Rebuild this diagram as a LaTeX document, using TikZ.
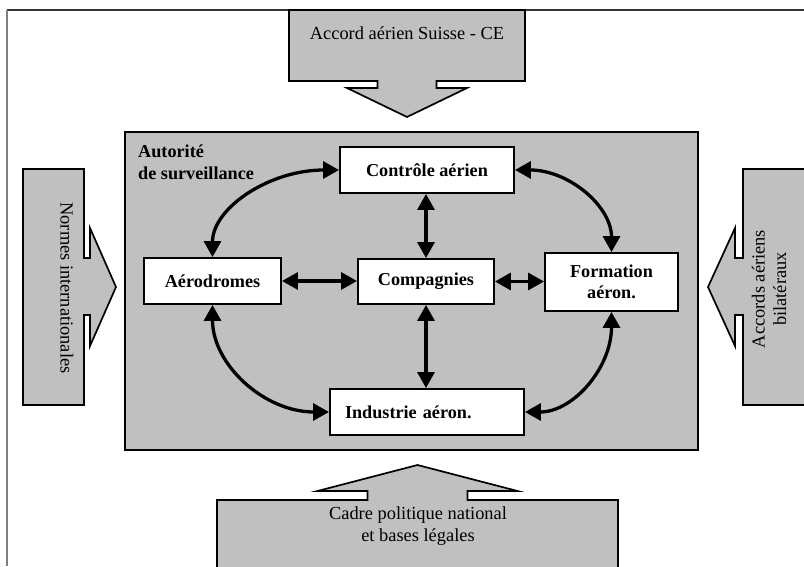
\documentclass[tikz,border=0pt]{standalone}
\usepackage{fontspec}
\setmainfont{Liberation Serif}
\usetikzlibrary{arrows.meta,calc}
\definecolor{silv}{RGB}{192,192,192}
\begin{document}
\begin{tikzpicture}[x=1pt,y=1pt,
  blockarrow/.style={fill=silv,draw=black,line width=1.7pt,line join=miter},
  box/.style={draw=black,fill=white,line width=1.9pt,inner sep=0pt,
    font=\fontsize{18.2}{21}\selectfont\bfseries,align=center},
  lbl/.style={font=\fontsize{18.4}{21.5}\selectfont,align=center,inner sep=0pt},
  dbl/.style={{Triangle[length=16pt,width=17pt]}-{Triangle[length=16pt,width=17pt]},line width=3.3pt}]
\useasboundingbox (0,0) rectangle (804,566);
\clip (0,0) rectangle (804,566);

% frame
\draw[line width=1.2pt,black!80] (7,556) -- (804,556);
\draw[line width=1.6pt,black!50] (7,556) -- (7,0);

% top block arrow
\draw[blockarrow] (289,556) -- (525,556) -- (525,485) -- (436.5,485) -- (436.5,478) -- (467,478)
  -- (407,449) -- (347,478) -- (377.5,478) -- (377.5,485) -- (289,485) -- cycle;
\node[lbl] (ttop) at (407,533) {Accord aérien Suisse - CE};

% left block arrow
\draw[blockarrow] (23,397) -- (84,397) -- (84,308) -- (90,308) -- (90,338) -- (116,279)
  -- (90,220) -- (90,251) -- (84,251) -- (84,161) -- (23,161) -- cycle;
\node[lbl,rotate=-90] (tleft) at (67,278) {Normes internationales};

% right block arrow
\draw[blockarrow] (812,397) -- (743,397) -- (743,308) -- (735,308) -- (735,338) -- (708,279)
  -- (735,220) -- (735,251) -- (743,251) -- (743,161) -- (812,161) -- cycle;
\node[lbl,rotate=90] (tright) at (769,277) {Accords aériens\\bilatéraux};

% bottom block arrow
\draw[blockarrow] (217,-10) -- (217,66) -- (367.5,66) -- (367.5,75) -- (317.5,75) -- (417.5,101)
  -- (517.5,75) -- (467.5,75) -- (467.5,66) -- (618,66) -- (618,-10) -- cycle;
\node[lbl] (tbot) at (418,40) {Cadre politique national\\et bases légales};

% main box
\draw[fill=silv,draw=black,line width=2pt] (125,434) rectangle (698,116);
\node[font=\fontsize{18.2}{22}\selectfont\bfseries,align=left,inner sep=0pt,anchor=west] (aut)
  at (138,404) {Autorité\\de surveillance};

% nodes
\node[box,minimum width=174pt,minimum height=46pt] (ctrl) at (427,396) {Contrôle aérien};
\node[box,minimum width=137pt,minimum height=46pt] (aero) at (212.5,285) {Aérodromes};
\node[box,minimum width=136pt,minimum height=45pt] (comp) at (426,284.5) {Compagnies};
\node[box,minimum width=133pt,minimum height=58pt] (form) at (611.5,284) {Formation\\aéron.};
\node[box,minimum width=194pt,minimum height=46pt,text width=164pt,align=left] (ind) at (427,154) {Industrie aéron.};

% straight connectors
\draw[dbl] (comp.north) -- (comp.north |- ctrl.south);
\draw[dbl] (comp.south) -- (comp.south |- ind.north);
\draw[dbl] (aero.east) -- (aero.east -| comp.west);
\draw[dbl] (comp.east) -- (comp.east -| form.west);

% curved connectors
\draw[dbl] (aero.north) .. controls ($(aero.north)+(0,48.6)$) and ($(ctrl.west)+(-70.4,0)$) .. (ctrl.west);
\draw[dbl] (ctrl.east) .. controls ($(ctrl.east)+(53.8,0)$) and ($(form.north)+(0,45.8)$) .. (form.north);
\draw[dbl] (aero.south) .. controls ($(aero.south)+(0,-59.6)$) and ($(ind.west)+(-64.9,0)$) .. (ind.west);
\draw[dbl] (form.south) .. controls ($(form.south)+(0,-55.8)$) and ($(ind.east)+(48.3,0)$) .. (ind.east);
\end{tikzpicture}
\end{document}
